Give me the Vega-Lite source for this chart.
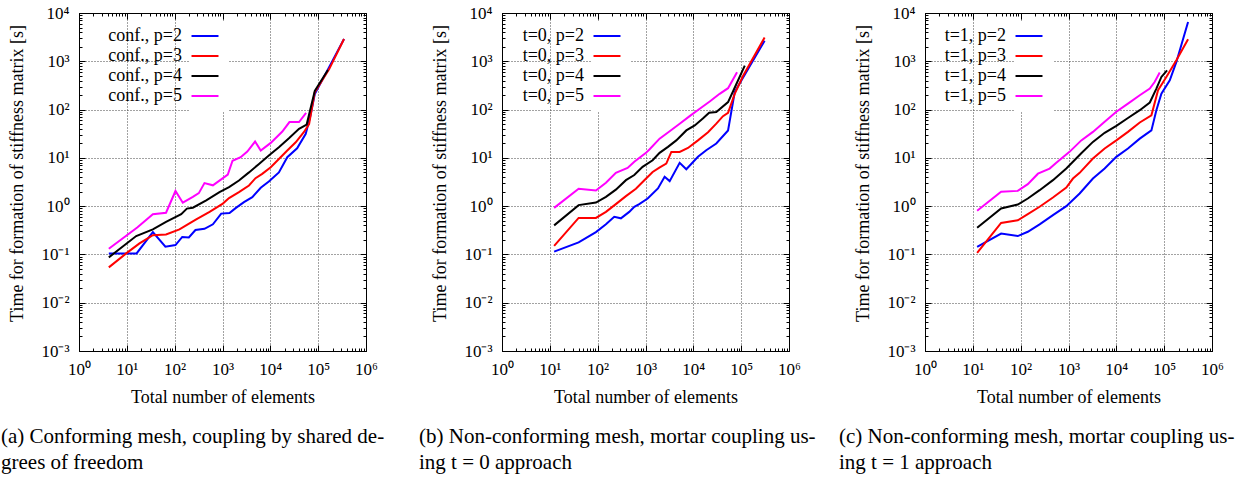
{
  "$schema": "https://vega.github.io/schema/vega-lite/v6.json",
  "padding": {"left": 0, "top": 3, "right": 0, "bottom": 0},
  "background": "white",
  "config": {
    "font": "Liberation Serif",
    "view": {"stroke": "black", "strokeWidth": 1},
    "concat": {"spacing": 136},
    "title": {"font": "Liberation Serif", "fontWeight": "normal", "color": "black"},
    "legend": {"labelFont": "Liberation Serif"},
    "axis": {
      "labelFont": "Liberation Serif", "labelFontSize": 17, "labelColor": "black",
      "titleFont": "Liberation Serif", "titleFontSize": 18, "titleFontWeight": "normal", "titleColor": "black",
      "domainColor": "black", "tickColor": "black", "labelOverlap": false, "labelFlush": false
    }
  },
  "bounds": "flush",
  "datasets": {
    "d": [
      {"p":"a","s":"conf., p=2","n":4.2,"t":0.105},{"p":"a","s":"conf., p=2","n":16,"t":0.105},{"p":"a","s":"conf., p=2","n":35,"t":0.29},{"p":"a","s":"conf., p=2","n":64,"t":0.145},{"p":"a","s":"conf., p=2","n":104,"t":0.156},{"p":"a","s":"conf., p=2","n":144,"t":0.23},{"p":"a","s":"conf., p=2","n":198,"t":0.224},{"p":"a","s":"conf., p=2","n":272,"t":0.32},{"p":"a","s":"conf., p=2","n":420,"t":0.34},{"p":"a","s":"conf., p=2","n":630,"t":0.42},{"p":"a","s":"conf., p=2","n":940,"t":0.7},{"p":"a","s":"conf., p=2","n":1400,"t":0.72},{"p":"a","s":"conf., p=2","n":1880,"t":0.91},{"p":"a","s":"conf., p=2","n":2810,"t":1.21},{"p":"a","s":"conf., p=2","n":4200,"t":1.53},{"p":"a","s":"conf., p=2","n":6300,"t":2.4},{"p":"a","s":"conf., p=2","n":9300,"t":3.24},{"p":"a","s":"conf., p=2","n":15100,"t":5.0},{"p":"a","s":"conf., p=2","n":22600,"t":10.3},{"p":"a","s":"conf., p=2","n":36300,"t":15.8},{"p":"a","s":"conf., p=2","n":55000,"t":31.5},{"p":"a","s":"conf., p=2","n":69000,"t":75},{"p":"a","s":"conf., p=2","n":85000,"t":210},{"p":"a","s":"conf., p=2","n":155000,"t":640},{"p":"a","s":"conf., p=2","n":347000,"t":2900},
      {"p":"a","s":"conf., p=3","n":4.2,"t":0.054},{"p":"a","s":"conf., p=3","n":9.7,"t":0.105},{"p":"a","s":"conf., p=3","n":18.4,"t":0.169},{"p":"a","s":"conf., p=3","n":35,"t":0.25},{"p":"a","s":"conf., p=3","n":66,"t":0.26},{"p":"a","s":"conf., p=3","n":126,"t":0.33},{"p":"a","s":"conf., p=3","n":188,"t":0.42},{"p":"a","s":"conf., p=3","n":282,"t":0.53},{"p":"a","s":"conf., p=3","n":537,"t":0.76},{"p":"a","s":"conf., p=3","n":1016,"t":1.13},{"p":"a","s":"conf., p=3","n":1370,"t":1.47},{"p":"a","s":"conf., p=3","n":2210,"t":1.95},{"p":"a","s":"conf., p=3","n":3580,"t":2.68},{"p":"a","s":"conf., p=3","n":4900,"t":3.8},{"p":"a","s":"conf., p=3","n":6760,"t":4.67},{"p":"a","s":"conf., p=3","n":10200,"t":6.4},{"p":"a","s":"conf., p=3","n":15100,"t":9.5},{"p":"a","s":"conf., p=3","n":22600,"t":14.2},{"p":"a","s":"conf., p=3","n":33900,"t":21},{"p":"a","s":"conf., p=3","n":50100,"t":34},{"p":"a","s":"conf., p=3","n":64600,"t":50},{"p":"a","s":"conf., p=3","n":85000,"t":230},{"p":"a","s":"conf., p=3","n":170000,"t":690},{"p":"a","s":"conf., p=3","n":347000,"t":2900},
      {"p":"a","s":"conf., p=4","n":4.2,"t":0.087},{"p":"a","s":"conf., p=4","n":15.7,"t":0.24},{"p":"a","s":"conf., p=4","n":35,"t":0.33},{"p":"a","s":"conf., p=4","n":66,"t":0.47},{"p":"a","s":"conf., p=4","n":137,"t":0.68},{"p":"a","s":"conf., p=4","n":180,"t":0.89},{"p":"a","s":"conf., p=4","n":240,"t":0.93},{"p":"a","s":"conf., p=4","n":457,"t":1.32},{"p":"a","s":"conf., p=4","n":865,"t":1.95},{"p":"a","s":"conf., p=4","n":1370,"t":2.47},{"p":"a","s":"conf., p=4","n":2210,"t":3.4},{"p":"a","s":"conf., p=4","n":3580,"t":5.0},{"p":"a","s":"conf., p=4","n":5800,"t":7.5},{"p":"a","s":"conf., p=4","n":9300,"t":11.2},{"p":"a","s":"conf., p=4","n":15100,"t":16.6},{"p":"a","s":"conf., p=4","n":24500,"t":25.5},{"p":"a","s":"conf., p=4","n":39800,"t":40},{"p":"a","s":"conf., p=4","n":57500,"t":49},{"p":"a","s":"conf., p=4","n":85000,"t":245},{"p":"a","s":"conf., p=4","n":160000,"t":660},
      {"p":"a","s":"conf., p=5","n":4.2,"t":0.131},{"p":"a","s":"conf., p=5","n":16.5,"t":0.36},{"p":"a","s":"conf., p=5","n":35,"t":0.68},{"p":"a","s":"conf., p=5","n":66,"t":0.73},{"p":"a","s":"conf., p=5","n":104,"t":2.06},{"p":"a","s":"conf., p=5","n":148,"t":1.18},{"p":"a","s":"conf., p=5","n":240,"t":1.55},{"p":"a","s":"conf., p=5","n":320,"t":1.86},{"p":"a","s":"conf., p=5","n":420,"t":3.0},{"p":"a","s":"conf., p=5","n":630,"t":2.7},{"p":"a","s":"conf., p=5","n":1290,"t":4.5},{"p":"a","s":"conf., p=5","n":1620,"t":8.7},{"p":"a","s":"conf., p=5","n":2400,"t":10.3},{"p":"a","s":"conf., p=5","n":3300,"t":13.5},{"p":"a","s":"conf., p=5","n":4800,"t":21.8},{"p":"a","s":"conf., p=5","n":6300,"t":14.2},{"p":"a","s":"conf., p=5","n":10200,"t":20.4},{"p":"a","s":"conf., p=5","n":17800,"t":35},{"p":"a","s":"conf., p=5","n":25100,"t":55},{"p":"a","s":"conf., p=5","n":39800,"t":55},{"p":"a","s":"conf., p=5","n":56000,"t":85},
      {"p":"b","s":"t=0, p=2","n":12.3,"t":0.114},{"p":"b","s":"t=0, p=2","n":40,"t":0.177},{"p":"b","s":"t=0, p=2","n":92,"t":0.29},{"p":"b","s":"t=0, p=2","n":149,"t":0.42},{"p":"b","s":"t=0, p=2","n":222,"t":0.6},{"p":"b","s":"t=0, p=2","n":306,"t":0.56},{"p":"b","s":"t=0, p=2","n":457,"t":0.76},{"p":"b","s":"t=0, p=2","n":583,"t":0.97},{"p":"b","s":"t=0, p=2","n":740,"t":1.1},{"p":"b","s":"t=0, p=2","n":1110,"t":1.44},{"p":"b","s":"t=0, p=2","n":1820,"t":2.33},{"p":"b","s":"t=0, p=2","n":2510,"t":4.06},{"p":"b","s":"t=0, p=2","n":3200,"t":3.3},{"p":"b","s":"t=0, p=2","n":5180,"t":7.9},{"p":"b","s":"t=0, p=2","n":7130,"t":5.8},{"p":"b","s":"t=0, p=2","n":12500,"t":10.5},{"p":"b","s":"t=0, p=2","n":18600,"t":14.4},{"p":"b","s":"t=0, p=2","n":30200,"t":19.8},{"p":"b","s":"t=0, p=2","n":53200,"t":37},{"p":"b","s":"t=0, p=2","n":73300,"t":230},{"p":"b","s":"t=0, p=2","n":101000,"t":400},{"p":"b","s":"t=0, p=2","n":309000,"t":2670},
      {"p":"b","s":"t=0, p=3","n":12.3,"t":0.151},{"p":"b","s":"t=0, p=3","n":40,"t":0.57},{"p":"b","s":"t=0, p=3","n":92,"t":0.57},{"p":"b","s":"t=0, p=3","n":149,"t":0.76},{"p":"b","s":"t=0, p=3","n":240,"t":1.1},{"p":"b","s":"t=0, p=3","n":390,"t":1.61},{"p":"b","s":"t=0, p=3","n":630,"t":2.3},{"p":"b","s":"t=0, p=3","n":945,"t":3.45},{"p":"b","s":"t=0, p=3","n":1410,"t":5.1},{"p":"b","s":"t=0, p=3","n":1950,"t":6.3},{"p":"b","s":"t=0, p=3","n":2720,"t":7.6},{"p":"b","s":"t=0, p=3","n":3470,"t":13.3},{"p":"b","s":"t=0, p=3","n":5180,"t":13.3},{"p":"b","s":"t=0, p=3","n":7730,"t":16},{"p":"b","s":"t=0, p=3","n":12500,"t":23},{"p":"b","s":"t=0, p=3","n":20300,"t":34},{"p":"b","s":"t=0, p=3","n":30200,"t":51},{"p":"b","s":"t=0, p=3","n":41700,"t":73},{"p":"b","s":"t=0, p=3","n":53200,"t":86},{"p":"b","s":"t=0, p=3","n":73300,"t":212},{"p":"b","s":"t=0, p=3","n":110000,"t":500},{"p":"b","s":"t=0, p=3","n":309000,"t":3100},
      {"p":"b","s":"t=0, p=4","n":12.3,"t":0.4},{"p":"b","s":"t=0, p=4","n":40,"t":1.05},{"p":"b","s":"t=0, p=4","n":92,"t":1.19},{"p":"b","s":"t=0, p=4","n":149,"t":1.56},{"p":"b","s":"t=0, p=4","n":240,"t":2.2},{"p":"b","s":"t=0, p=4","n":390,"t":3.45},{"p":"b","s":"t=0, p=4","n":583,"t":4.4},{"p":"b","s":"t=0, p=4","n":870,"t":6.5},{"p":"b","s":"t=0, p=4","n":1410,"t":8.9},{"p":"b","s":"t=0, p=4","n":1970,"t":12.7},{"p":"b","s":"t=0, p=4","n":2950,"t":16.9},{"p":"b","s":"t=0, p=4","n":4400,"t":23},{"p":"b","s":"t=0, p=4","n":7130,"t":37},{"p":"b","s":"t=0, p=4","n":10700,"t":47},{"p":"b","s":"t=0, p=4","n":15800,"t":65},{"p":"b","s":"t=0, p=4","n":21400,"t":86},{"p":"b","s":"t=0, p=4","n":30200,"t":89},{"p":"b","s":"t=0, p=4","n":53200,"t":143},{"p":"b","s":"t=0, p=4","n":76900,"t":315},{"p":"b","s":"t=0, p=4","n":119000,"t":815},
      {"p":"b","s":"t=0, p=5","n":12.3,"t":0.92},{"p":"b","s":"t=0, p=5","n":40,"t":2.29},{"p":"b","s":"t=0, p=5","n":92,"t":2.1},{"p":"b","s":"t=0, p=5","n":149,"t":3.04},{"p":"b","s":"t=0, p=5","n":240,"t":4.9},{"p":"b","s":"t=0, p=5","n":422,"t":6.2},{"p":"b","s":"t=0, p=5","n":583,"t":8.3},{"p":"b","s":"t=0, p=5","n":1025,"t":12.7},{"p":"b","s":"t=0, p=5","n":1220,"t":15.1},{"p":"b","s":"t=0, p=5","n":1970,"t":25},{"p":"b","s":"t=0, p=5","n":3200,"t":35.5},{"p":"b","s":"t=0, p=5","n":5180,"t":51},{"p":"b","s":"t=0, p=5","n":8380,"t":73},{"p":"b","s":"t=0, p=5","n":13600,"t":104},{"p":"b","s":"t=0, p=5","n":22000,"t":147},{"p":"b","s":"t=0, p=5","n":35500,"t":212},{"p":"b","s":"t=0, p=5","n":53200,"t":277},{"p":"b","s":"t=0, p=5","n":82000,"t":593},
      {"p":"c","s":"t=1, p=2","n":12.3,"t":0.144},{"p":"c","s":"t=1, p=2","n":39,"t":0.27},{"p":"c","s":"t=1, p=2","n":87,"t":0.24},{"p":"c","s":"t=1, p=2","n":141,"t":0.295},{"p":"c","s":"t=1, p=2","n":249,"t":0.42},{"p":"c","s":"t=1, p=2","n":473,"t":0.65},{"p":"c","s":"t=1, p=2","n":900,"t":1.0},{"p":"c","s":"t=1, p=2","n":1710,"t":1.83},{"p":"c","s":"t=1, p=2","n":3240,"t":3.73},{"p":"c","s":"t=1, p=2","n":5700,"t":6.0},{"p":"c","s":"t=1, p=2","n":10000,"t":10.5},{"p":"c","s":"t=1, p=2","n":17500,"t":15.6},{"p":"c","s":"t=1, p=2","n":30900,"t":25},{"p":"c","s":"t=1, p=2","n":54100,"t":37},{"p":"c","s":"t=1, p=2","n":68700,"t":97},{"p":"c","s":"t=1, p=2","n":87500,"t":214},{"p":"c","s":"t=1, p=2","n":131000,"t":405},{"p":"c","s":"t=1, p=2","n":180000,"t":970},{"p":"c","s":"t=1, p=2","n":316000,"t":6500},
      {"p":"c","s":"t=1, p=3","n":12.3,"t":0.108},{"p":"c","s":"t=1, p=3","n":39,"t":0.45},{"p":"c","s":"t=1, p=3","n":87,"t":0.51},{"p":"c","s":"t=1, p=3","n":141,"t":0.68},{"p":"c","s":"t=1, p=3","n":249,"t":0.97},{"p":"c","s":"t=1, p=3","n":473,"t":1.51},{"p":"c","s":"t=1, p=3","n":900,"t":2.43},{"p":"c","s":"t=1, p=3","n":1240,"t":3.73},{"p":"c","s":"t=1, p=3","n":1710,"t":4.9},{"p":"c","s":"t=1, p=3","n":3240,"t":9.7},{"p":"c","s":"t=1, p=3","n":5700,"t":15.6},{"p":"c","s":"t=1, p=3","n":10000,"t":23},{"p":"c","s":"t=1, p=3","n":17500,"t":34.5},{"p":"c","s":"t=1, p=3","n":30900,"t":54},{"p":"c","s":"t=1, p=3","n":54100,"t":76},{"p":"c","s":"t=1, p=3","n":74500,"t":251},{"p":"c","s":"t=1, p=3","n":111000,"t":474},{"p":"c","s":"t=1, p=3","n":180000,"t":1050},{"p":"c","s":"t=1, p=3","n":316000,"t":2850},
      {"p":"c","s":"t=1, p=4","n":12.3,"t":0.356},{"p":"c","s":"t=1, p=4","n":39,"t":0.895},{"p":"c","s":"t=1, p=4","n":87,"t":1.08},{"p":"c","s":"t=1, p=4","n":141,"t":1.44},{"p":"c","s":"t=1, p=4","n":249,"t":2.14},{"p":"c","s":"t=1, p=4","n":473,"t":3.45},{"p":"c","s":"t=1, p=4","n":900,"t":6.0},{"p":"c","s":"t=1, p=4","n":1850,"t":12.5},{"p":"c","s":"t=1, p=4","n":3240,"t":21.4},{"p":"c","s":"t=1, p=4","n":5700,"t":33},{"p":"c","s":"t=1, p=4","n":10000,"t":46},{"p":"c","s":"t=1, p=4","n":17500,"t":67},{"p":"c","s":"t=1, p=4","n":30900,"t":97},{"p":"c","s":"t=1, p=4","n":50100,"t":140},{"p":"c","s":"t=1, p=4","n":68700,"t":272},{"p":"c","s":"t=1, p=4","n":87500,"t":474},{"p":"c","s":"t=1, p=4","n":115000,"t":650},
      {"p":"c","s":"t=1, p=5","n":12.3,"t":0.8},{"p":"c","s":"t=1, p=5","n":39,"t":1.98},{"p":"c","s":"t=1, p=5","n":87,"t":2.07},{"p":"c","s":"t=1, p=5","n":141,"t":2.85},{"p":"c","s":"t=1, p=5","n":230,"t":4.7},{"p":"c","s":"t=1, p=5","n":403,"t":6.0},{"p":"c","s":"t=1, p=5","n":556,"t":7.9},{"p":"c","s":"t=1, p=5","n":1050,"t":13.3},{"p":"c","s":"t=1, p=5","n":1850,"t":23},{"p":"c","s":"t=1, p=5","n":3240,"t":34.5},{"p":"c","s":"t=1, p=5","n":5700,"t":56},{"p":"c","s":"t=1, p=5","n":10000,"t":90},{"p":"c","s":"t=1, p=5","n":17500,"t":133},{"p":"c","s":"t=1, p=5","n":30900,"t":198},{"p":"c","s":"t=1, p=5","n":50100,"t":272},{"p":"c","s":"t=1, p=5","n":63100,"t":373},{"p":"c","s":"t=1, p=5","n":80700,"t":583}
    ]
  },
  "resolve": {"scale": {"color": "independent"}, "legend": {"color": "independent"}},
  "hconcat": [
    {
      "width": 287, "height": 338,
      "title": {"text": ["(a) Conforming mesh, coupling by shared de-", "grees of freedom"], "orient": "bottom", "anchor": "start", "frame": "group", "dx": -78, "offset": 20, "font": "Liberation Serif", "fontSize": 21, "fontWeight": "normal", "lineHeight": 26, "align": "left", "color": "black"},
      "data": {"name": "d"},
      "transform": [{"filter": "datum.p == 'a'"}],
      "resolve": {"axis": {"x": "independent", "y": "independent"}},
      "layer": [
        {
          "mark": {"type": "line", "strokeWidth": 2, "clip": true},
          "encoding": {
            "x": {"field": "n", "type": "quantitative", "scale": {"type": "log", "domain": [1, 1000000], "nice": false},
              "axis": {"title": "Total number of elements", "titlePadding": 8, "values": [1,2,3,4,5,6,7,8,9,10,20,30,40,50,60,70,80,90,100,200,300,400,500,600,700,800,900,1000,2000,3000,4000,5000,6000,7000,8000,9000,10000,20000,30000,40000,50000,60000,70000,80000,90000,100000,200000,300000,400000,500000,600000,700000,800000,900000,1000000],
                "labelExpr": "abs(log(datum.value)/LN10 - round(log(datum.value)/LN10)) < 1e-6 ? '10' + ['⁰','¹','²','³','⁴','⁵','⁶'][round(log(datum.value)/LN10)] : ''",
                "grid": true, "gridDash": [1, 2], "gridColor": "#444", "gridOpacity": {"condition": {"test": "abs(log(datum.value)/LN10 - round(log(datum.value)/LN10)) < 1e-6", "value": 1}, "value": 0},
                "tickSize": {"condition": {"test": "abs(log(datum.value)/LN10 - round(log(datum.value)/LN10)) < 1e-6", "value": -6}, "value": -3},
                "labelPadding": 16}},
            "y": {"field": "t", "type": "quantitative", "scale": {"type": "log", "domain": [0.001, 10000], "nice": false},
              "axis": {"title": "Time for formation of stiffness matrix [s]", "titlePadding": 14, "titleY": 160, "values": [0.001,0.002,0.003,0.004,0.005,0.006,0.007,0.008,0.009,0.01,0.02,0.03,0.04,0.05,0.06,0.07,0.08,0.09,0.1,0.2,0.3,0.4,0.5,0.6,0.7,0.8,0.9,1,2,3,4,5,6,7,8,9,10,20,30,40,50,60,70,80,90,100,200,300,400,500,600,700,800,900,1000,2000,3000,4000,5000,6000,7000,8000,9000,10000],
                "labelExpr": "abs(log(datum.value)/LN10 - round(log(datum.value)/LN10)) < 1e-6 ? '10' + (round(log(datum.value)/LN10) < 0 ? '⁻' : '') + ['⁰','¹','²','³','⁴','⁵','⁶'][abs(round(log(datum.value)/LN10))] : ''",
                "grid": true, "gridDash": [1, 2], "gridColor": "#444", "gridOpacity": {"condition": {"test": "abs(log(datum.value)/LN10 - round(log(datum.value)/LN10)) < 1e-6", "value": 1}, "value": 0},
                "tickSize": {"condition": {"test": "abs(log(datum.value)/LN10 - round(log(datum.value)/LN10)) < 1e-6", "value": -6}, "value": -3},
                "labelPadding": 16}},
            "color": {"field": "s", "type": "nominal", "scale": {"domain": ["conf., p=2", "conf., p=3", "conf., p=4", "conf., p=5"], "range": ["#0000ff", "#ff0000", "#000000", "#ff00ff"]},
              "legend": {"orient": "none", "legendX": 111, "legendY": 8, "title": null, "symbolType": "M-2,0H2", "symbolSize": 182, "symbolStrokeWidth": 2, "labelFont": "Liberation Serif", "labelFontSize": 18, "labelColor": "black", "labelAlign": "right", "labelOffset": -32, "rowPadding": 2, "padding": 6, "fillColor": "white"}}
          }
        },
        {
          "mark": {"type": "point", "opacity": 0},
          "encoding": {
            "x": {"field": "n", "type": "quantitative", "axis": {"orient": "top", "title": null, "labels": false, "grid": false, "values": [1,2,3,4,5,6,7,8,9,10,20,30,40,50,60,70,80,90,100,200,300,400,500,600,700,800,900,1000,2000,3000,4000,5000,6000,7000,8000,9000,10000,20000,30000,40000,50000,60000,70000,80000,90000,100000,200000,300000,400000,500000,600000,700000,800000,900000,1000000],
              "tickSize": {"condition": {"test": "abs(log(datum.value)/LN10 - round(log(datum.value)/LN10)) < 1e-6", "value": -6}, "value": -3}}},
            "y": {"field": "t", "type": "quantitative", "axis": {"orient": "right", "title": null, "labels": false, "grid": false, "values": [0.001,0.002,0.003,0.004,0.005,0.006,0.007,0.008,0.009,0.01,0.02,0.03,0.04,0.05,0.06,0.07,0.08,0.09,0.1,0.2,0.3,0.4,0.5,0.6,0.7,0.8,0.9,1,2,3,4,5,6,7,8,9,10,20,30,40,50,60,70,80,90,100,200,300,400,500,600,700,800,900,1000,2000,3000,4000,5000,6000,7000,8000,9000,10000],
              "tickSize": {"condition": {"test": "abs(log(datum.value)/LN10 - round(log(datum.value)/LN10)) < 1e-6", "value": -6}, "value": -3}}}
          }
        }
      ]
    },
    {
      "width": 287, "height": 338,
      "title": {"text": ["(b) Non-conforming mesh, mortar coupling us-", "ing t = 0 approach"], "orient": "bottom", "anchor": "start", "frame": "group", "dx": -83, "offset": 20, "font": "Liberation Serif", "fontSize": 21, "fontWeight": "normal", "lineHeight": 26, "align": "left", "color": "black"},
      "data": {"name": "d"},
      "transform": [{"filter": "datum.p == 'b'"}],
      "resolve": {"axis": {"x": "independent", "y": "independent"}},
      "layer": [
        {
          "mark": {"type": "line", "strokeWidth": 2, "clip": true},
          "encoding": {
            "x": {"field": "n", "type": "quantitative", "scale": {"type": "log", "domain": [1, 1000000], "nice": false},
              "axis": {"title": "Total number of elements", "titlePadding": 8, "values": [1,2,3,4,5,6,7,8,9,10,20,30,40,50,60,70,80,90,100,200,300,400,500,600,700,800,900,1000,2000,3000,4000,5000,6000,7000,8000,9000,10000,20000,30000,40000,50000,60000,70000,80000,90000,100000,200000,300000,400000,500000,600000,700000,800000,900000,1000000],
                "labelExpr": "abs(log(datum.value)/LN10 - round(log(datum.value)/LN10)) < 1e-6 ? '10' + ['⁰','¹','²','³','⁴','⁵','⁶'][round(log(datum.value)/LN10)] : ''",
                "grid": true, "gridDash": [1, 2], "gridColor": "#444", "gridOpacity": {"condition": {"test": "abs(log(datum.value)/LN10 - round(log(datum.value)/LN10)) < 1e-6", "value": 1}, "value": 0},
                "tickSize": {"condition": {"test": "abs(log(datum.value)/LN10 - round(log(datum.value)/LN10)) < 1e-6", "value": -6}, "value": -3},
                "labelPadding": 16}},
            "y": {"field": "t", "type": "quantitative", "scale": {"type": "log", "domain": [0.001, 10000], "nice": false},
              "axis": {"title": "Time for formation of stiffness matrix [s]", "titlePadding": 14, "titleY": 160, "values": [0.001,0.002,0.003,0.004,0.005,0.006,0.007,0.008,0.009,0.01,0.02,0.03,0.04,0.05,0.06,0.07,0.08,0.09,0.1,0.2,0.3,0.4,0.5,0.6,0.7,0.8,0.9,1,2,3,4,5,6,7,8,9,10,20,30,40,50,60,70,80,90,100,200,300,400,500,600,700,800,900,1000,2000,3000,4000,5000,6000,7000,8000,9000,10000],
                "labelExpr": "abs(log(datum.value)/LN10 - round(log(datum.value)/LN10)) < 1e-6 ? '10' + (round(log(datum.value)/LN10) < 0 ? '⁻' : '') + ['⁰','¹','²','³','⁴','⁵','⁶'][abs(round(log(datum.value)/LN10))] : ''",
                "grid": true, "gridDash": [1, 2], "gridColor": "#444", "gridOpacity": {"condition": {"test": "abs(log(datum.value)/LN10 - round(log(datum.value)/LN10)) < 1e-6", "value": 1}, "value": 0},
                "tickSize": {"condition": {"test": "abs(log(datum.value)/LN10 - round(log(datum.value)/LN10)) < 1e-6", "value": -6}, "value": -3},
                "labelPadding": 16}},
            "color": {"field": "s", "type": "nominal", "scale": {"domain": ["t=0, p=2", "t=0, p=3", "t=0, p=4", "t=0, p=5"], "range": ["#0000ff", "#ff0000", "#000000", "#ff00ff"]},
              "legend": {"orient": "none", "legendX": 90, "legendY": 8, "title": null, "symbolType": "M-2,0H2", "symbolSize": 182, "symbolStrokeWidth": 2, "labelFont": "Liberation Serif", "labelFontSize": 18, "labelColor": "black", "labelAlign": "right", "labelOffset": -32, "rowPadding": 2, "padding": 6, "fillColor": "white"}}
          }
        },
        {
          "mark": {"type": "point", "opacity": 0},
          "encoding": {
            "x": {"field": "n", "type": "quantitative", "axis": {"orient": "top", "title": null, "labels": false, "grid": false, "values": [1,2,3,4,5,6,7,8,9,10,20,30,40,50,60,70,80,90,100,200,300,400,500,600,700,800,900,1000,2000,3000,4000,5000,6000,7000,8000,9000,10000,20000,30000,40000,50000,60000,70000,80000,90000,100000,200000,300000,400000,500000,600000,700000,800000,900000,1000000],
              "tickSize": {"condition": {"test": "abs(log(datum.value)/LN10 - round(log(datum.value)/LN10)) < 1e-6", "value": -6}, "value": -3}}},
            "y": {"field": "t", "type": "quantitative", "axis": {"orient": "right", "title": null, "labels": false, "grid": false, "values": [0.001,0.002,0.003,0.004,0.005,0.006,0.007,0.008,0.009,0.01,0.02,0.03,0.04,0.05,0.06,0.07,0.08,0.09,0.1,0.2,0.3,0.4,0.5,0.6,0.7,0.8,0.9,1,2,3,4,5,6,7,8,9,10,20,30,40,50,60,70,80,90,100,200,300,400,500,600,700,800,900,1000,2000,3000,4000,5000,6000,7000,8000,9000,10000],
              "tickSize": {"condition": {"test": "abs(log(datum.value)/LN10 - round(log(datum.value)/LN10)) < 1e-6", "value": -6}, "value": -3}}}
          }
        }
      ]
    },
    {
      "width": 287, "height": 338,
      "title": {"text": ["(c) Non-conforming mesh, mortar coupling us-", "ing t = 1 approach"], "orient": "bottom", "anchor": "start", "frame": "group", "dx": -86, "offset": 20, "font": "Liberation Serif", "fontSize": 21, "fontWeight": "normal", "lineHeight": 26, "align": "left", "color": "black"},
      "data": {"name": "d"},
      "transform": [{"filter": "datum.p == 'c'"}],
      "resolve": {"axis": {"x": "independent", "y": "independent"}},
      "layer": [
        {
          "mark": {"type": "line", "strokeWidth": 2, "clip": true},
          "encoding": {
            "x": {"field": "n", "type": "quantitative", "scale": {"type": "log", "domain": [1, 1000000], "nice": false},
              "axis": {"title": "Total number of elements", "titlePadding": 8, "values": [1,2,3,4,5,6,7,8,9,10,20,30,40,50,60,70,80,90,100,200,300,400,500,600,700,800,900,1000,2000,3000,4000,5000,6000,7000,8000,9000,10000,20000,30000,40000,50000,60000,70000,80000,90000,100000,200000,300000,400000,500000,600000,700000,800000,900000,1000000],
                "labelExpr": "abs(log(datum.value)/LN10 - round(log(datum.value)/LN10)) < 1e-6 ? '10' + ['⁰','¹','²','³','⁴','⁵','⁶'][round(log(datum.value)/LN10)] : ''",
                "grid": true, "gridDash": [1, 2], "gridColor": "#444", "gridOpacity": {"condition": {"test": "abs(log(datum.value)/LN10 - round(log(datum.value)/LN10)) < 1e-6", "value": 1}, "value": 0},
                "tickSize": {"condition": {"test": "abs(log(datum.value)/LN10 - round(log(datum.value)/LN10)) < 1e-6", "value": -6}, "value": -3},
                "labelPadding": 16}},
            "y": {"field": "t", "type": "quantitative", "scale": {"type": "log", "domain": [0.001, 10000], "nice": false},
              "axis": {"title": "Time for formation of stiffness matrix [s]", "titlePadding": 14, "titleY": 160, "values": [0.001,0.002,0.003,0.004,0.005,0.006,0.007,0.008,0.009,0.01,0.02,0.03,0.04,0.05,0.06,0.07,0.08,0.09,0.1,0.2,0.3,0.4,0.5,0.6,0.7,0.8,0.9,1,2,3,4,5,6,7,8,9,10,20,30,40,50,60,70,80,90,100,200,300,400,500,600,700,800,900,1000,2000,3000,4000,5000,6000,7000,8000,9000,10000],
                "labelExpr": "abs(log(datum.value)/LN10 - round(log(datum.value)/LN10)) < 1e-6 ? '10' + (round(log(datum.value)/LN10) < 0 ? '⁻' : '') + ['⁰','¹','²','³','⁴','⁵','⁶'][abs(round(log(datum.value)/LN10))] : ''",
                "grid": true, "gridDash": [1, 2], "gridColor": "#444", "gridOpacity": {"condition": {"test": "abs(log(datum.value)/LN10 - round(log(datum.value)/LN10)) < 1e-6", "value": 1}, "value": 0},
                "tickSize": {"condition": {"test": "abs(log(datum.value)/LN10 - round(log(datum.value)/LN10)) < 1e-6", "value": -6}, "value": -3},
                "labelPadding": 16}},
            "color": {"field": "s", "type": "nominal", "scale": {"domain": ["t=1, p=2", "t=1, p=3", "t=1, p=4", "t=1, p=5"], "range": ["#0000ff", "#ff0000", "#000000", "#ff00ff"]},
              "legend": {"orient": "none", "legendX": 89, "legendY": 8, "title": null, "symbolType": "M-2,0H2", "symbolSize": 182, "symbolStrokeWidth": 2, "labelFont": "Liberation Serif", "labelFontSize": 18, "labelColor": "black", "labelAlign": "right", "labelOffset": -32, "rowPadding": 2, "padding": 6, "fillColor": "white"}}
          }
        },
        {
          "mark": {"type": "point", "opacity": 0},
          "encoding": {
            "x": {"field": "n", "type": "quantitative", "axis": {"orient": "top", "title": null, "labels": false, "grid": false, "values": [1,2,3,4,5,6,7,8,9,10,20,30,40,50,60,70,80,90,100,200,300,400,500,600,700,800,900,1000,2000,3000,4000,5000,6000,7000,8000,9000,10000,20000,30000,40000,50000,60000,70000,80000,90000,100000,200000,300000,400000,500000,600000,700000,800000,900000,1000000],
              "tickSize": {"condition": {"test": "abs(log(datum.value)/LN10 - round(log(datum.value)/LN10)) < 1e-6", "value": -6}, "value": -3}}},
            "y": {"field": "t", "type": "quantitative", "axis": {"orient": "right", "title": null, "labels": false, "grid": false, "values": [0.001,0.002,0.003,0.004,0.005,0.006,0.007,0.008,0.009,0.01,0.02,0.03,0.04,0.05,0.06,0.07,0.08,0.09,0.1,0.2,0.3,0.4,0.5,0.6,0.7,0.8,0.9,1,2,3,4,5,6,7,8,9,10,20,30,40,50,60,70,80,90,100,200,300,400,500,600,700,800,900,1000,2000,3000,4000,5000,6000,7000,8000,9000,10000],
              "tickSize": {"condition": {"test": "abs(log(datum.value)/LN10 - round(log(datum.value)/LN10)) < 1e-6", "value": -6}, "value": -3}}}
          }
        }
      ]
    }
  ]
}
